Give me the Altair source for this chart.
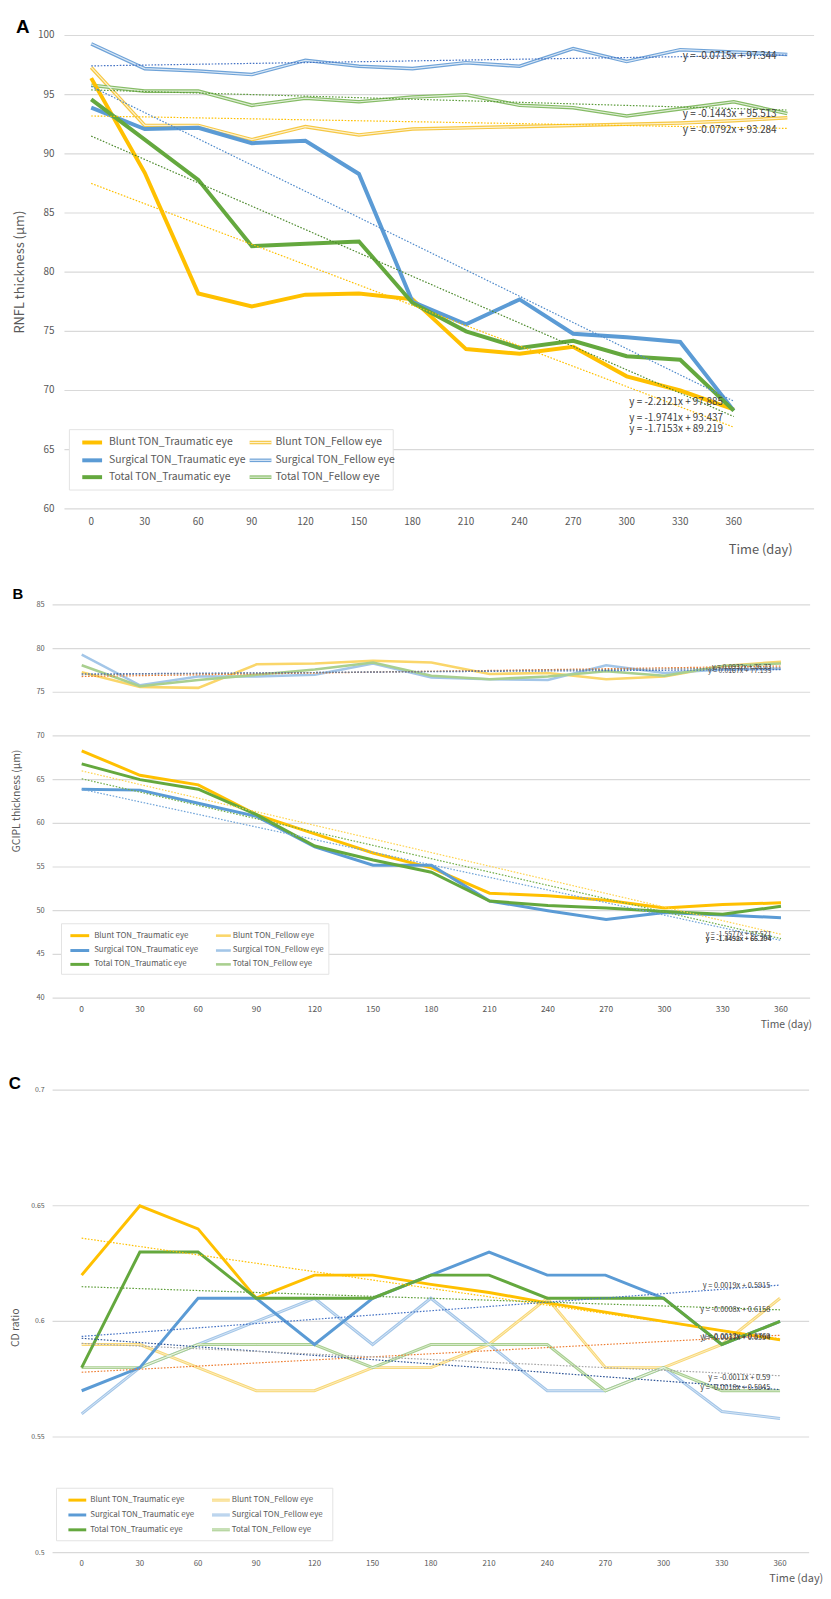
import altair as alt
import pandas as pd

FONT = "Noto Sans CJK KR"
TXT = "#595959"

DAYS = [0, 30, 60, 90, 120, 150, 180, 210, 240, 270, 300, 330, 360]
DAYS_EXT = DAYS + [390]

BLUNT_T = "Blunt TON_Traumatic eye"
BLUNT_F = "Blunt TON_Fellow eye"
SURG_T = "Surgical TON_Traumatic eye"
SURG_F = "Surgical TON_Fellow eye"
TOTAL_T = "Total TON_Traumatic eye"
TOTAL_F = "Total TON_Fellow eye"
LEGEND_ORDER = [BLUNT_T, BLUNT_F, SURG_T, SURG_F, TOTAL_T, TOTAL_F]

# ---------------- Panel A : RNFL thickness ----------------
A_BLUNT_T = [96.4, 88.4, 78.2, 77.1, 78.1, 78.2, 77.7, 73.5, 73.1, 73.7, 71.2, 70.0, 68.4]
A_SURG_T = [93.9, 92.1, 92.2, 90.9, 91.1, 88.3, 77.5, 75.6, 77.7, 74.8, 74.5, 74.1, 68.3]
A_TOTAL_T = [94.6, 91.2, 87.8, 82.2, 82.4, 82.6, 77.4, 75.0, 73.6, 74.2, 72.9, 72.6, 68.3]
A_BLUNT_F = [97.3, 92.4, 92.4, 91.2, 92.3, 91.6, 92.1, 92.2, 92.3, 92.4, 92.5, 92.6, 92.8, 93.05]
A_SURG_F = [99.3, 97.2, 97.0, 96.7, 97.9, 97.4, 97.2, 97.7, 97.4, 98.9, 97.8, 98.8, 98.6, 98.4]
A_TOTAL_F = [95.8, 95.3, 95.3, 94.1, 94.7, 94.4, 94.8, 95.0, 94.1, 93.9, 93.2, 93.8, 94.4, 93.4]
A_TREND_SERIES = [SURG_F, TOTAL_F, BLUNT_F, SURG_T, TOTAL_T, BLUNT_T]
A_TREND_FROM = [97.43, 95.4, 93.2, 95.7, 91.5, 87.5]
A_TREND_TO = [98.35, 93.7, 92.15, 69.1, 67.8, 66.9]
A_TREND_END = [390, 390, 390, 360, 360, 360]
A_EQ_TEXT = ["y = -0.0715x + 97.344", "y = -0.1443x + 95.513", "y = -0.0792x + 93.284",
             "y = -2.2121x + 97.885", "y = -1.9741x + 93.437", "y = -1.7153x + 89.219"]
A_EQ_DAY = [384, 384, 384, 354, 354, 354]
A_EQ_VAL = [98.24, 93.39, 92.05, 69.04, 67.70, 66.78]
A_YTICKS = [60, 65, 70, 75, 80, 85, 90, 95, 100]

# ---------------- Panel B : GCIPL thickness ----------------
B_BLUNT_T = [68.3, 65.5, 64.4, 61.0, 58.8, 56.6, 54.9, 52.0, 51.7, 51.2, 50.3, 50.7, 50.9]
B_SURG_T = [63.9, 63.8, 62.3, 60.8, 57.3, 55.2, 55.2, 51.1, 50.0, 49.0, 49.8, 49.5, 49.2]
B_TOTAL_T = [66.8, 65.0, 63.9, 61.0, 57.4, 55.8, 54.4, 51.1, 50.6, 50.3, 49.9, 49.6, 50.5]
B_BLUNT_F = [77.3, 75.6, 75.5, 78.2, 78.3, 78.6, 78.4, 77.1, 77.2, 76.5, 76.8, 78.0, 78.5]
B_SURG_F = [79.3, 75.8, 76.8, 76.8, 77.0, 78.3, 76.7, 76.5, 76.4, 78.1, 77.2, 77.6, 77.7]
B_TOTAL_F = [78.1, 75.7, 76.4, 77.0, 77.6, 78.4, 76.9, 76.5, 76.8, 77.4, 76.9, 78.0, 78.3]
B_TREND_SERIES = [BLUNT_F, SURG_F, TOTAL_F, BLUNT_T, SURG_T, TOTAL_T]
B_TREND_FROM = [76.8, 77.1, 77.0, 66.0, 63.9, 65.1]
B_TREND_TO = [78.0, 77.6, 77.8, 47.3, 46.6, 46.8]
B_EQ_TEXT = ["y = 0.0932x + 76.73", "y = 0.0167x + 77.135", "y = -1.5577x + 67.521",
             "y = -1.4492x + 66.394", "y = -1.3458x + 65.204"]
B_EQ_DAY = [355, 355, 355, 355, 355]
B_EQ_VAL = [77.86, 77.4, 47.36, 46.8, 46.7]
B_YTICKS = [40, 45, 50, 55, 60, 65, 70, 75, 80, 85]

# ---------------- Panel C : CD ratio ----------------
C_BLUNT_T = [0.62, 0.65, 0.64, 0.61, 0.62, 0.62, 0.616, 0.6125, 0.608, 0.604, 0.600, 0.596, 0.592]
C_SURG_T = [0.57, 0.58, 0.61, 0.61, 0.59, 0.61, 0.62, 0.63, 0.62, 0.62, 0.61, 0.59, 0.60]
C_TOTAL_T = [0.58, 0.63, 0.63, 0.61, 0.61, 0.61, 0.62, 0.62, 0.61, 0.61, 0.61, 0.59, 0.60]
C_BLUNT_F = [0.59, 0.59, 0.58, 0.57, 0.57, 0.58, 0.58, 0.59, 0.61, 0.58, 0.58, 0.59, 0.61]
C_SURG_F = [0.56, 0.58, 0.59, 0.60, 0.61, 0.59, 0.61, 0.59, 0.57, 0.57, 0.58, 0.561, 0.558]
C_TOTAL_F = [0.58, 0.58, 0.59, 0.59, 0.59, 0.58, 0.59, 0.59, 0.59, 0.57, 0.58, 0.57, 0.57]
C_TREND_SERIES = [BLUNT_T, SURG_T, TOTAL_T, BLUNT_F, SURG_F, TOTAL_F]
C_TREND_FROM = [0.636, 0.5935, 0.615, 0.578, 0.5927, 0.5905]
C_TREND_TO = [0.5925, 0.6157, 0.605, 0.594, 0.5705, 0.5765]
C_EQ_TEXT = ["y = 0.0019x + 0.5915", "y = -0.0008x + 0.6158", "y = 0.0013x + 0.5769",
             "y = -0.0037x + 0.6394", "y = -0.0011x + 0.59", "y = -0.0018x + 0.5945"]
C_EQ_DAY = [355, 355, 355, 355, 355, 355]
C_EQ_VAL = [0.6153, 0.6049, 0.5934, 0.5927, 0.5753, 0.5713]
C_YTICKS = [0.5, 0.55, 0.6, 0.65, 0.7]
C_YLABELS = ["0.5", "0.55", "0.6", "0.65", "0.7"]

# ---------------- styles ----------------
TRAU_COL = {BLUNT_T: "#FFC000", SURG_T: "#5B9BD5", TOTAL_T: "#64A83E"}
FEL_COL_A = {BLUNT_F: "#F6C844", SURG_F: "#6FA3D8", TOTAL_F: "#86BC66"}
FEL_COL_B = {BLUNT_F: "#FAD66A", SURG_F: "#A3C6E8", TOTAL_F: "#A9CF8F"}
FEL_COL_C = {BLUNT_F: "#F8D878", SURG_F: "#A4C6E8", TOTAL_F: "#A9CF90"}
TREND_COL_A = {SURG_F: "#4472C4", TOTAL_F: "#5B9B3A", BLUNT_F: "#FFC000",
               SURG_T: "#4F8ACB", TOTAL_T: "#4E8A2E", BLUNT_T: "#FFC000"}
TREND_COL_B = {BLUNT_F: "#ED7D31", SURG_F: "#4472C4", TOTAL_F: "#7F7F7F",
               BLUNT_T: "#FFD34D", SURG_T: "#6FA3D8", TOTAL_T: "#70AD47"}
TREND_COL_C = {BLUNT_T: "#FFC000", SURG_T: "#4472C4", TOTAL_T: "#5E9E3A",
               BLUNT_F: "#ED7D31", SURG_F: "#2F5597", TOTAL_F: "#A5A5A5"}


def long_df(series, days, colors):
    rows = []
    for name, vals in series.items():
        for d, v in zip(days, vals):
            rows.append({"series": name, "day": d, "value": v, "col": colors[name]})
    return pd.DataFrame(rows)


def panel(cfg):
    xs = alt.Scale(domain=cfg["xdom"], range=cfg["xrange"], nice=False, zero=False)
    ys = alt.Scale(domain=cfg["ydom"], range=cfg["yrange"], nice=False, zero=False)

    def ex(f):
        return alt.X(f, type="quantitative", scale=xs, axis=None)

    def ey(f):
        return alt.Y(f, type="quantitative", scale=ys, axis=None)

    layers = []
    grid = pd.DataFrame({"v": cfg["yticks"], "lab": cfg["ylabels"],
                         "x0": cfg["xdom"][0], "x1": cfg["xdom"][1]})
    layers.append(alt.Chart(grid).mark_rule(color="#d9d9d9", strokeWidth=1.2).encode(
        x=ex("x0"), x2=alt.X2("x1"), y=ey("v")))
    layers.append(alt.Chart(grid).mark_text(
        align="right", baseline="middle", dx=cfg["ylab_dx"], font=FONT,
        fontSize=cfg["ylab_size"], color=TXT).encode(x=ex("x0"), y=ey("v"), text="lab:N"))
    xt = pd.DataFrame({"day": DAYS, "lab": [str(d) for d in DAYS], "y0": cfg["ydom"][0]})
    layers.append(alt.Chart(xt).mark_text(
        align="center", baseline="middle", dy=cfg["xlab_dy"], font=FONT,
        fontSize=cfg["xlab_size"], color=TXT).encode(x=ex("day"), y=ey("y0"), text="lab:N"))

    fdf = cfg["fellow"]
    layers.append(alt.Chart(fdf).mark_line(strokeWidth=cfg["fw"]).encode(
        x=ex("day"), y=ey("value"), detail="series:N",
        stroke=alt.Stroke("col:N", scale=None)))
    if cfg["inner"] > 0:
        layers.append(alt.Chart(fdf).mark_line(
            strokeWidth=cfg["inner"], color="white", opacity=cfg["inner_op"]).encode(
            x=ex("day"), y=ey("value"), detail="series:N"))
    tdf = cfg["trau"]
    for name in [BLUNT_T, SURG_T, TOTAL_T]:
        layers.append(alt.Chart(tdf[tdf.series == name]).mark_line(
            strokeWidth=cfg["tw"], color=TRAU_COL[name]).encode(x=ex("day"), y=ey("value")))

    trd = cfg["trend"]
    layers.append(alt.Chart(trd).mark_line(strokeWidth=1.2, strokeDash=[1.6, 1.6]).encode(
        x=ex("day"), y=ey("value"), detail="series:N",
        stroke=alt.Stroke("col:N", scale=None)))
    eq = cfg["eq"]
    layers.append(alt.Chart(eq).mark_text(
        align="right", baseline="middle", font=FONT, fontSize=cfg["eq_size"],
        color="#404040").encode(x=ex("day"), y=ey("value"), text="txt:N"))
    return alt.layer(*layers)


def trend_df(series, frm, to, ends, colors):
    rows = []
    for s, a, b, e in zip(series, frm, to, ends):
        rows.append({"series": s, "day": 0, "value": a, "col": colors[s]})
        rows.append({"series": s, "day": e, "value": b, "col": colors[s]})
    return pd.DataFrame(rows)


def eq_df(texts, days, vals):
    return pd.DataFrame({"txt": texts, "day": days, "value": vals})


cfgA = dict(
    xdom=[-15, 405], xrange=[57, 814], ydom=[60, 100], yrange=[498, 20],
    yticks=A_YTICKS, ylabels=[str(v) for v in A_YTICKS], ylab_dx=-10, ylab_size=10,
    xlab_dy=13, xlab_size=10,
    fellow=long_df({BLUNT_F: A_BLUNT_F, SURG_F: A_SURG_F, TOTAL_F: A_TOTAL_F}, DAYS_EXT, FEL_COL_A),
    trau=long_df({BLUNT_T: A_BLUNT_T, SURG_T: A_SURG_T, TOTAL_T: A_TOTAL_T}, DAYS, TRAU_COL),
    trend=trend_df(A_TREND_SERIES, A_TREND_FROM, A_TREND_TO, A_TREND_END, TREND_COL_A),
    eq=eq_df(A_EQ_TEXT, A_EQ_DAY, A_EQ_VAL), eq_size=10,
    fw=3.6, inner=1.2, inner_op=0.75, tw=4)

cfgB = dict(
    xdom=[-15, 375], xrange=[45, 810], ydom=[40, 85], yrange=[992, 595],
    yticks=B_YTICKS, ylabels=[str(v) for v in B_YTICKS], ylab_dx=-8, ylab_size=7.5,
    xlab_dy=11, xlab_size=8.5,
    fellow=long_df({BLUNT_F: B_BLUNT_F, SURG_F: B_SURG_F, TOTAL_F: B_TOTAL_F}, DAYS, FEL_COL_B),
    trau=long_df({BLUNT_T: B_BLUNT_T, SURG_T: B_SURG_T, TOTAL_T: B_TOTAL_T}, DAYS, TRAU_COL),
    trend=trend_df(B_TREND_SERIES, B_TREND_FROM, B_TREND_TO, [360] * 6, TREND_COL_B),
    eq=eq_df(B_EQ_TEXT, B_EQ_DAY, B_EQ_VAL), eq_size=7,
    fw=2.6, inner=0, inner_op=0, tw=3)

cfgC = dict(
    xdom=[-15, 375], xrange=[45, 809], ydom=[0.5, 0.7], yrange=[1552, 1085],
    yticks=C_YTICKS, ylabels=C_YLABELS, ylab_dx=-8, ylab_size=7,
    xlab_dy=12, xlab_size=8,
    fellow=long_df({BLUNT_F: C_BLUNT_F, SURG_F: C_SURG_F, TOTAL_F: C_TOTAL_F}, DAYS, FEL_COL_C),
    trau=long_df({BLUNT_T: C_BLUNT_T, SURG_T: C_SURG_T, TOTAL_T: C_TOTAL_T}, DAYS, TRAU_COL),
    trend=trend_df(C_TREND_SERIES, C_TREND_FROM, C_TREND_TO, [360] * 6, TREND_COL_C),
    eq=eq_df(C_EQ_TEXT, C_EQ_DAY, C_EQ_VAL), eq_size=7.5,
    fw=3, inner=1.0, inner_op=0.55, tw=3)

ONE = pd.DataFrame({"a": [0]})


def text_at(txt, x, y, size, color=TXT, weight="normal", angle=0, font=FONT, align="center"):
    return alt.Chart(ONE).mark_text(
        text=txt, fontSize=size, color=color, fontWeight=weight, angle=angle,
        font=font, align=align, baseline="middle").encode(x=alt.value(x), y=alt.value(y))


def legend(box, rows, c1, c2, size, tw, fw, fcols, inner, inner_op):
    x0, y0, x1, y1 = box
    out = [alt.Chart(ONE).mark_rect(fill="white", stroke="#e3e3e3", strokeWidth=1).encode(
        x=alt.value(x0), x2=alt.value(x1), y=alt.value(y0), y2=alt.value(y1))]
    recs = []
    for i, name in enumerate(LEGEND_ORDER):
        col = i % 2
        r = i // 2
        sx0, sx1, tx = (c1 if col == 0 else c2)
        fel = col == 1
        recs.append({"series": name, "sx0": sx0, "sx1": sx1, "tx": tx, "ty": rows[r],
                     "fel": fel, "col": (fcols[name] if fel else TRAU_COL[name])})
    ld = pd.DataFrame(recs)
    X = lambda f: alt.X(f, type="quantitative", scale=None)
    Y = lambda f: alt.Y(f, type="quantitative", scale=None)
    out.append(alt.Chart(ld[~ld.fel]).mark_rule(strokeWidth=tw).encode(
        x=X("sx0"), x2=alt.X2("sx1"), y=Y("ty"), stroke=alt.Stroke("col:N", scale=None)))
    out.append(alt.Chart(ld[ld.fel]).mark_rule(strokeWidth=fw).encode(
        x=X("sx0"), x2=alt.X2("sx1"), y=Y("ty"), stroke=alt.Stroke("col:N", scale=None)))
    if inner > 0:
        out.append(alt.Chart(ld[ld.fel]).mark_rule(strokeWidth=inner, color="white",
                                                   opacity=inner_op).encode(
            x=X("sx0"), x2=alt.X2("sx1"), y=Y("ty")))
    out.append(alt.Chart(ld).mark_text(align="left", baseline="middle", font=FONT,
                                       fontSize=size, color=TXT).encode(
        x=X("tx"), y=Y("ty"), text="series:N"))
    return out


deco = []
# panel A
deco += [text_at("A", 15, 11, 19, color="#000000", weight="bold", font="Liberation Sans"),
         text_at("RNFL thickness (μm)", 12, 259, 13, angle=270),
         text_at("Time (day)", 760, 540, 13)]
deco += legend((62, 418, 389, 479), [431, 449, 466], (75, 95, 102), (244, 266, 270),
               10.5, 4, 3.6, FEL_COL_A, 1.2, 0.75)
# panel B
deco += [text_at("B", 10, 584, 15, color="#000000", weight="bold", font="Liberation Sans"),
         text_at("GCIPL thickness (μm)", 9, 793, 10.5, angle=270),
         text_at("Time (day)", 786, 1019, 10.5)]
deco += legend((54, 917, 324, 968), [929, 944, 958], (63, 82, 87), (210, 225, 227),
               8, 3, 2.6, FEL_COL_B, 0, 0)
# panel C
deco += [text_at("C", 7, 1079, 17, color="#000000", weight="bold", font="Liberation Sans"),
         text_at("CD ratio", 8, 1325, 10.5, angle=270),
         text_at("Time (day)", 796, 1579, 11)]
deco += legend((49, 1487, 328, 1540), [1499, 1514, 1529], (61, 79, 83), (206, 224, 226),
               8, 3, 3, FEL_COL_C, 1.0, 0.55)

chart = alt.layer(panel(cfgA), panel(cfgB), panel(cfgC), *deco).resolve_scale(
    x="independent", y="independent"
).properties(
    width=823, height=1583, padding=0,
    autosize=alt.AutoSizeParams(type="none"),
).configure_view(stroke=None)

chart.save("out.html", embed_options={"renderer": "svg", "actions": False})
